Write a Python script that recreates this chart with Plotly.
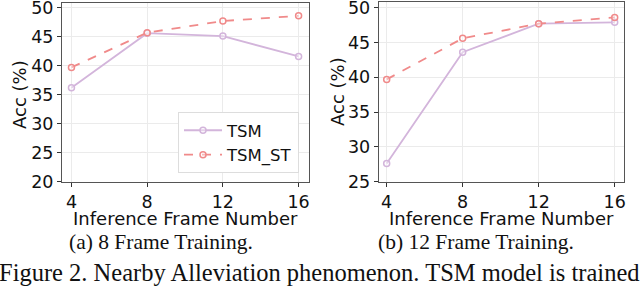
import plotly.graph_objects as go

frames = [4, 8, 12, 16]
tsm_8 = [36.2, 45.6, 45.1, 41.6]
tsm_st_8 = [39.7, 45.7, 47.7, 48.6]
tsm_12 = [27.6, 43.6, 47.7, 47.9]
tsm_st_12 = [39.7, 45.6, 47.7, 48.6]
yticks_a = [20, 25, 30, 35, 40, 45, 50]
yticks_b = [25, 30, 35, 40, 45, 50]
captions = ["(a) 8 Frame Training.", "(b) 12 Frame Training."]
fig_caption = "Figure 2. Nearby Alleviation phenomenon. TSM model is trained"

C_TSM = "#d3b5db"
C_ST = "#f08a8a"
FONT = "DejaVu Sans"

fig = go.Figure()

def add(x, y, name, color, dash, xa, ya, show):
    fig.add_trace(go.Scatter(
        x=x, y=y, name=name, mode="lines+markers", xaxis=xa, yaxis=ya,
        showlegend=show,
        line=dict(color=color, width=1.8, dash=dash),
        marker=dict(symbol="circle", size=6, color="rgba(255,255,255,0.4)",
                    line=dict(color=color, width=1.5)),
    ))

add(frames, tsm_8, "TSM", C_TSM, "solid", "x", "y", True)
add(frames, tsm_st_8, "TSM_ST", C_ST, "dash", "x", "y", True)
add(frames, tsm_12, "TSM", C_TSM, "solid", "x2", "y2", False)
add(frames, tsm_st_12, "TSM_ST", C_ST, "dash", "x2", "y2", False)

axis_common = dict(
    showline=True, linecolor="#555555", linewidth=1, mirror=True,
    showgrid=True, gridcolor="#ebebeb", gridwidth=1,
    ticks="outside", ticklen=4, tickcolor="#333333",
    tickfont=dict(family=FONT, size=17.5, color="#111111"),
    zeroline=False, ticklabeloverflow="allow", automargin=False,
)

fig.update_layout(
    width=640, height=287,
    margin=dict(l=0, r=0, t=0, b=0),
    paper_bgcolor="white", plot_bgcolor="white",
    xaxis=dict(domain=[62/640, 309/640], range=[3.5, 16.55],
               tickvals=frames, anchor="y", **axis_common),
    yaxis=dict(domain=[1-181.7/287, 1-2.7/287], range=[20, 50.86],
               tickvals=yticks_a, anchor="x", **axis_common),
    xaxis2=dict(domain=[378.7/640, 624/640], range=[3.58, 16.49],
                tickvals=frames, anchor="y2", **axis_common),
    yaxis2=dict(domain=[1-181.7/287, 1-1.7/287], range=[25, 50.86],
                tickvals=yticks_b, anchor="x2", **axis_common),
    legend=dict(x=299/640, y=1-173/287, xanchor="right", yanchor="bottom",
                bgcolor="white", bordercolor="#dddddd", borderwidth=1,
                font=dict(family=FONT, size=16.5, color="#111111"),
                tracegroupgap=0, itemwidth=38),
    showlegend=True,
)

ann = []
for cx, cy in [(20, 95), (337, 92)]:
    ann.append(dict(text="Acc (%)", x=cx/640, y=1-cy/287, xref="paper", yref="paper",
                    xanchor="center", yanchor="middle",
                    showarrow=False, textangle=-90,
                    font=dict(family=FONT, size=18, color="#111111")))
for cx in [(62+309)/2, (378.7+624)/2]:
    ann.append(dict(text="Inference Frame Number", x=cx/640, y=1-218/287,
                    xanchor="center", yanchor="middle",
                    xref="paper", yref="paper", showarrow=False,
                    font=dict(family=FONT, size=18, color="#111111")))
for cx, t in zip([161, 475.5], captions):
    ann.append(dict(text=t, x=cx/640, y=1-242/287, xref="paper", yref="paper",
                    xanchor="center", yanchor="middle",
                    showarrow=False,
                    font=dict(family="Liberation Serif", size=21.5, color="#111111")))
ann.append(dict(text=fig_caption, x=319/640, y=1-272/287, xref="paper", yref="paper",
                xanchor="center", yanchor="middle",
                showarrow=False,
                font=dict(family="Liberation Serif", size=24.5, color="#111111")))
fig.update_layout(annotations=ann)

fig.write_html("out.html", config={"displayModeBar": False},
               post_script="document.body.style.margin='0px';document.body.style.overflow='hidden';")
